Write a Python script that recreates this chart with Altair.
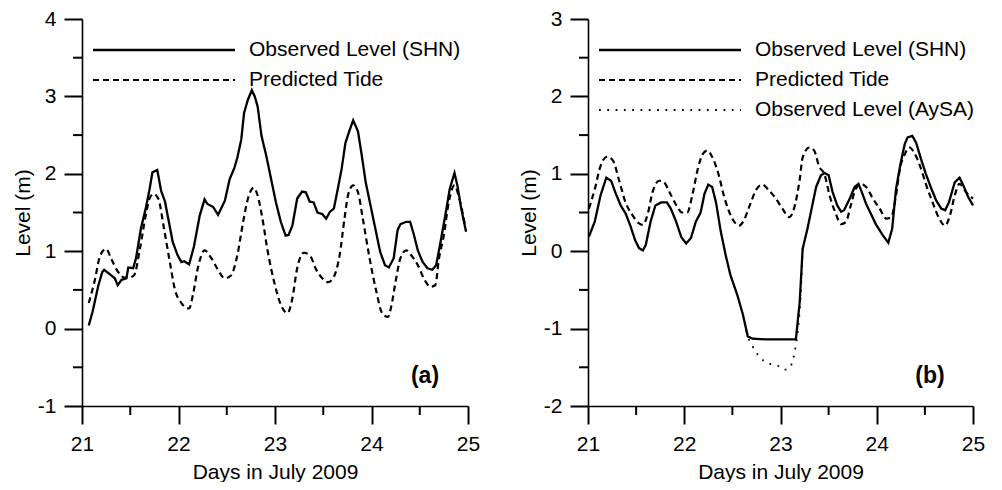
import altair as alt
import pandas as pd

FONT = "Liberation Sans"

# ---------------- Panel (a) ----------------
a_obs_t = [21.07, 21.11, 21.17, 21.21, 21.23, 21.30, 21.34, 21.37, 21.41, 21.46,
           21.48, 21.53, 21.56, 21.61, 21.66, 21.70, 21.73, 21.78, 21.82, 21.86,
           21.90, 21.94, 21.99, 22.03, 22.06, 22.11, 22.16, 22.22, 22.27, 22.30,
           22.36, 22.41, 22.48, 22.53, 22.58, 22.61, 22.65, 22.68, 22.72, 22.76,
           22.79, 22.82, 22.86, 22.91, 22.96, 23.01, 23.06, 23.11, 23.14, 23.18,
           23.23, 23.28, 23.32, 23.36, 23.40, 23.44, 23.49, 23.53, 23.57, 23.61,
           23.65, 23.69, 23.73, 23.77, 23.81, 23.86, 23.90, 23.94, 23.99, 24.04,
           24.09, 24.14, 24.18, 24.23, 24.27, 24.30, 24.36, 24.40, 24.44, 24.48,
           24.53, 24.58, 24.63, 24.67, 24.71, 24.77, 24.81, 24.86, 24.89, 24.93,
           24.98]
a_obs_v = [0.04, 0.22, 0.56, 0.73, 0.76, 0.69, 0.65, 0.56, 0.63, 0.65,
           0.79, 0.78, 0.91, 1.29, 1.55, 1.80, 2.02, 2.05, 1.78, 1.64,
           1.38, 1.12, 0.95, 0.86, 0.87, 0.83, 1.06, 1.46, 1.67, 1.61,
           1.57, 1.47, 1.65, 1.93, 2.08, 2.21, 2.44, 2.79, 2.96, 3.08,
           3.00, 2.87, 2.49, 2.23, 1.93, 1.63, 1.38, 1.20, 1.21, 1.33,
           1.68, 1.77, 1.76, 1.64, 1.63, 1.50, 1.48, 1.42, 1.51, 1.55,
           1.80, 2.06, 2.40, 2.55, 2.69, 2.55, 2.23, 1.89, 1.59, 1.29,
           0.99, 0.82, 0.79, 0.91, 1.27, 1.35, 1.38, 1.38, 1.21, 1.01,
           0.86, 0.78, 0.76, 0.82, 1.08, 1.50, 1.80, 2.01, 1.85, 1.55,
           1.25]
a_pred_t = [21.07, 21.13, 21.19, 21.25, 21.30, 21.37, 21.44, 21.49, 21.54, 21.60,
            21.66, 21.70, 21.74, 21.79, 21.85, 21.91, 21.96, 22.03, 22.11, 22.15,
            22.20, 22.27, 22.34, 22.40, 22.48, 22.54, 22.61, 22.67, 22.72, 22.78,
            22.82, 22.87, 22.92, 22.99, 23.06, 23.13, 23.18, 23.23, 23.30, 23.37,
            23.42, 23.49, 23.55, 23.61, 23.67, 23.72, 23.76, 23.81, 23.86, 23.91,
            23.98, 24.05, 24.11, 24.17, 24.20, 24.25, 24.30, 24.36, 24.41, 24.48,
            24.55, 24.61, 24.66, 24.70, 24.75, 24.80, 24.86, 24.91, 24.97]
a_pred_v = [0.33, 0.61, 0.95, 1.03, 0.91, 0.74, 0.66, 0.66, 0.69, 1.03,
            1.46, 1.68, 1.74, 1.68, 1.29, 0.86, 0.52, 0.33, 0.26, 0.44,
            0.78, 1.01, 0.91, 0.78, 0.65, 0.68, 0.95, 1.38, 1.68, 1.82,
            1.72, 1.42, 1.03, 0.61, 0.31, 0.20, 0.39, 0.78, 0.98, 0.93,
            0.78, 0.65, 0.60, 0.67, 0.95, 1.42, 1.74, 1.85, 1.76, 1.42,
            0.91, 0.48, 0.20, 0.15, 0.26, 0.61, 0.91, 1.01, 0.95, 0.82,
            0.63, 0.54, 0.56, 0.91, 1.21, 1.63, 1.85, 1.68, 1.33]

# ---------------- Panel (b) ----------------
b_obs_t = [21.01, 21.07, 21.13, 21.19, 21.24, 21.29, 21.34, 21.39, 21.44, 21.49,
           21.53, 21.57, 21.60, 21.65, 21.70, 21.76, 21.82, 21.86, 21.91, 21.97,
           22.02, 22.07, 22.12, 22.17, 22.21, 22.25, 22.29, 22.33, 22.38, 22.43,
           22.48, 22.55, 22.61, 22.66, 22.71, 22.85, 23.02, 23.16, 23.20, 23.23,
           23.28, 23.33, 23.37, 23.42, 23.46, 23.50, 23.54, 23.59, 23.63, 23.66,
           23.72, 23.77, 23.81, 23.84, 23.89, 23.94, 23.99, 24.06, 24.12, 24.16,
           24.20, 24.25, 24.29, 24.32, 24.37, 24.41, 24.46, 24.51, 24.57, 24.62,
           24.67, 24.71, 24.75, 24.81, 24.86, 24.90, 24.95, 25.00]
b_obs_v = [0.19, 0.38, 0.72, 0.95, 0.91, 0.74, 0.59, 0.49, 0.33, 0.14,
           0.04, 0.01, 0.08, 0.38, 0.59, 0.63, 0.63, 0.55, 0.40, 0.18,
           0.10, 0.17, 0.38, 0.50, 0.74, 0.86, 0.83, 0.63, 0.25, -0.05,
           -0.31, -0.56, -0.82, -1.10, -1.13, -1.14, -1.14, -1.14, -0.65, 0.03,
           0.29, 0.59, 0.83, 0.98, 1.01, 0.98, 0.77, 0.59, 0.51, 0.53,
           0.68, 0.83, 0.87, 0.78, 0.61, 0.48, 0.35, 0.21, 0.11, 0.29,
           0.80, 1.15, 1.38, 1.47, 1.49, 1.40, 1.19, 1.00, 0.80, 0.65,
           0.55, 0.53, 0.63, 0.89, 0.95, 0.85, 0.70, 0.59]
b_pred_t = [21.01, 21.07, 21.13, 21.20, 21.26, 21.32, 21.39, 21.46, 21.53, 21.57,
            21.62, 21.67, 21.74, 21.79, 21.84, 21.91, 21.98, 22.03, 22.09, 22.14,
            22.19, 22.24, 22.29, 22.35, 22.42, 22.50, 22.57, 22.62, 22.68, 22.75,
            22.81, 22.87, 22.94, 23.02, 23.09, 23.14, 23.20, 23.23, 23.30, 23.35,
            23.40, 23.46, 23.51, 23.57, 23.63, 23.68, 23.73, 23.78, 23.84, 23.89,
            23.96, 24.03, 24.10, 24.15, 24.20, 24.24, 24.29, 24.34, 24.39, 24.45,
            24.51, 24.58, 24.65, 24.71, 24.76, 24.81, 24.86, 24.93, 25.00]
b_pred_v = [0.55, 0.80, 1.10, 1.22, 1.17, 0.93, 0.63, 0.47, 0.36, 0.34,
            0.48, 0.76, 0.91, 0.89, 0.78, 0.61, 0.50, 0.50, 0.76, 1.06,
            1.25, 1.30, 1.22, 1.02, 0.68, 0.42, 0.33, 0.40, 0.59, 0.80,
            0.86, 0.80, 0.70, 0.55, 0.44, 0.55, 0.93, 1.21, 1.34, 1.30,
            1.10, 0.98, 0.72, 0.50, 0.35, 0.38, 0.59, 0.80, 0.87, 0.83,
            0.68, 0.55, 0.42, 0.44, 0.72, 1.06, 1.25, 1.34, 1.27, 1.10,
            0.87, 0.63, 0.42, 0.33, 0.46, 0.72, 0.87, 0.76, 0.68]
b_aysa_t = [22.61, 22.66, 22.71, 22.76, 22.83, 22.90, 22.97, 23.04, 23.09, 23.13,
            23.16, 23.19, 23.21, 23.23]
b_aysa_v = [-0.82, -1.10, -1.23, -1.33, -1.42, -1.46, -1.48, -1.53, -1.51, -1.40,
            -1.21, -0.91, -0.56, 0.03]

# ---------------- axes / labels ----------------
x_major = [21, 22, 23, 24, 25]
x_minor = [21.5, 22.5, 23.5, 24.5]
a_y_major = [-1, 0, 1, 2, 3, 4]
a_y_minor = [-0.5, 0.5, 1.5, 2.5, 3.5]
b_y_major = [-2, -1, 0, 1, 2, 3]
b_y_minor = [-1.5, -0.5, 0.5, 1.5, 2.5]

legend_a = ["Observed Level (SHN)", "Predicted Tide"]
legend_b = ["Observed Level (SHN)", "Predicted Tide", "Observed Level (AySA)"]
panel_tags = ["(a)", "(b)"]

SOLID = dict(strokeWidth=2.3)
DASHED = dict(strokeWidth=2.2, strokeDash=[6, 4])
DOTTED = dict(strokeWidth=1.8, strokeDash=[1.8, 6.5])
STYLES = [SOLID, DASHED, DOTTED]

INK = "#000000"
H = 387
MAJ, MIN = 18, 9
TICK_W = 2
LABEL_EXPR = "'' + datum.value"


def panel(obs, pred, aysa, ydom, ymaj, ymin, labels, tag, W):
    xs = alt.Scale(domain=[21, 25], nice=False, zero=False)
    ys = alt.Scale(domain=ydom, nice=False, zero=False)
    xa = alt.Axis(values=x_major, ticks=True, tickSize=MAJ, tickColor=INK, tickWidth=TICK_W,
                  labelExpr=LABEL_EXPR, labelPadding=9, labelFlush=False,
                  title="Days in July 2009", titlePadding=7, grid=False, orient="bottom")
    ya = alt.Axis(values=ymaj, ticks=True, tickSize=MAJ, tickColor=INK, tickWidth=TICK_W,
                  labelExpr=LABEL_EXPR, labelPadding=8, labelFlush=False,
                  title="Level (m)", titlePadding=4, grid=False, orient="left")

    layers = []
    if aysa is not None:
        df = pd.DataFrame({"t": aysa[0], "v": aysa[1]})
        layers.append(alt.Chart(df).mark_line(color=INK, interpolate="monotone", **DOTTED).encode(
            x=alt.X("t:Q", scale=xs, axis=xa), y=alt.Y("v:Q", scale=ys, axis=ya)))
    dfp = pd.DataFrame({"t": pred[0], "v": pred[1]})
    layers.append(alt.Chart(dfp).mark_line(color=INK, interpolate="monotone", **DASHED).encode(
        x=alt.X("t:Q", scale=xs, axis=xa), y=alt.Y("v:Q", scale=ys, axis=ya)))
    dfo = pd.DataFrame({"t": obs[0], "v": obs[1]})
    layers.append(alt.Chart(dfo).mark_line(color=INK, **SOLID).encode(
        x=alt.X("t:Q", scale=xs, axis=xa), y=alt.Y("v:Q", scale=ys, axis=ya)))

    # minor tick marks through the shared scales (outside the plot area)
    layers.append(alt.Chart(pd.DataFrame({"t": x_minor})).mark_rule(
        color=INK, strokeWidth=TICK_W).encode(
        x=alt.X("t:Q", scale=xs, axis=xa), y=alt.value(H), y2=alt.value(H + MIN)))
    layers.append(alt.Chart(pd.DataFrame({"v": ymin})).mark_rule(
        color=INK, strokeWidth=TICK_W).encode(
        y=alt.Y("v:Q", scale=ys, axis=ya), x=alt.value(0), x2=alt.value(-MIN)))

    # legend
    for i, lab in enumerate(labels):
        ldf = pd.DataFrame({"label": [lab]})
        yy = 31 + 30 * i
        layers.append(alt.Chart(ldf).mark_rule(color=INK, **STYLES[i]).encode(
            x=alt.value(11), x2=alt.value(153), y=alt.value(yy)))
        layers.append(alt.Chart(ldf).mark_text(align="left", baseline="middle", font=FONT,
                                               fontSize=21, color=INK).encode(
            x=alt.value(167), y=alt.value(yy), text="label:N"))

    gdf = pd.DataFrame({"tag": [tag]})
    layers.append(alt.Chart(gdf).mark_text(align="center", baseline="middle", font=FONT,
                                           fontSize=23, fontWeight="bold", color=INK).encode(
        x=alt.value(W - 43), y=alt.value(H - 30), text="tag:N"))

    return alt.layer(*layers).properties(width=W, height=H)


left = panel((a_obs_t, a_obs_v), (a_pred_t, a_pred_v), None, [-1, 4],
             a_y_major, a_y_minor, legend_a, panel_tags[0], 386)
right = panel((b_obs_t, b_obs_v), (b_pred_t, b_pred_v), (b_aysa_t, b_aysa_v), [-2, 3],
              b_y_major, b_y_minor, legend_b, panel_tags[1], 385)

chart = alt.hconcat(left, right, spacing=38).properties(
    padding={"left": 4, "top": 0, "right": 5, "bottom": 0}
).configure_view(stroke=None).configure_axis(
    domainColor=INK, domainWidth=1.6,
    labelFont=FONT, labelFontSize=21, labelColor=INK,
    titleFont=FONT, titleFontSize=21, titleFontWeight="normal", titleColor=INK
)

chart.save("out.html", embed_options={"renderer": "svg", "actions": False})
